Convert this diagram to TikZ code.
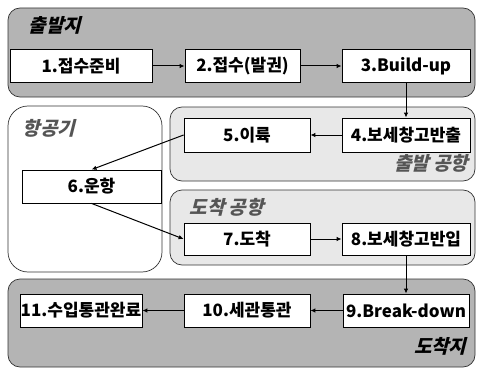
\documentclass[tikz,border=0pt]{standalone}
\usepackage{fontspec}
\setmainfont{Noto Sans CJK KR}
\newfontfamily\slantfont{Noto Sans CJK KR}[FakeSlant=0.25]
\usetikzlibrary{arrows.meta}
\definecolor{sitegray}{HTML}{B4B4B4}
\definecolor{portgray}{HTML}{E8E8E8}
\definecolor{labelgray}{HTML}{555555}
\begin{document}
\begin{tikzpicture}[
x=1pt, y=-1pt,
>={Latex[length=5pt,width=4.5pt]},
area/.style={draw=black!80, line width=.7pt},
stage/.style={draw, fill=white, line width=.8pt, minimum height=33pt, inner sep=0pt,
  font=\fontsize{17}{19}\selectfont\bfseries},
title/.style={font=\slantfont\fontsize{19}{21}\selectfont\bfseries},
flow/.style={->, line width=1pt}]
\useasboundingbox (0,0) rectangle (479,369);

% areas
\draw[area, fill=sitegray, rounded corners=12pt] (8,8) rectangle (475,97);
\draw[area, fill=white, rounded corners=20pt] (8,106) rectangle (162,272);
\draw[area, fill=portgray, rounded corners=12pt] (170,107) rectangle (475,181);
\draw[area, fill=portgray, rounded corners=12pt] (170,190) rectangle (475,265);
\draw[area, fill=sitegray, rounded corners=12pt] (8,279) rectangle (475,367);

\node[title, anchor=west] (origin) at (25,25) {출발지};
\node[title, text=labelgray, anchor=west] (plane) at (19,128) {항공기};
\node[title, text=labelgray, anchor=east] (deport) at (472,163) {출발 공항};
\node[title, text=labelgray, anchor=west] (arrport) at (186,207) {도착 공항};
\node[title, anchor=east] (dest) at (470,346) {도착지};

% stages
\node[stage, minimum width=142pt] (s1) at (81,66) {1.접수준비};
\node[stage, minimum width=115pt] (s2) at (242.5,66) {2.접수(발권)};
\node[stage, minimum width=128pt] (s3) at (406,66) {3.Build-up};
\node[stage, minimum width=128pt, minimum height=34pt] (s4) at (406,135) {4.보세창고반출};
\node[stage, minimum width=126pt, minimum height=34pt] (s5) at (247,135) {5.이륙};
\node[stage, minimum width=139pt] (s6) at (91.5,186.5) {6.운항};
\node[stage, minimum width=126pt, minimum height=32pt] (s7) at (247,239) {7.도착};
\node[stage, minimum width=128pt, minimum height=32pt] (s8) at (406,239) {8.보세창고반입};
\node[stage, minimum width=126pt] (s9) at (406,310.5) {9.Break-down};
\node[stage, minimum width=126pt] (s10) at (247,310.5) {10.세관통관};
\node[stage, minimum width=122pt] (s11) at (81,310.5) {11.수입통관완료};

% flow
\draw[flow] (s1) -- (s2);
\draw[flow] (s2) -- (s3);
\draw[flow] (s3) -- (s4);
\draw[flow] (s4) -- (s5);
\draw[flow] (s5.west) -- (s6.north);
\draw[flow] (s6.south) -- (s7.west);
\draw[flow] (s7) -- (s8);
\draw[flow] (s8) -- (s9);
\draw[flow] (s9) -- (s10);
\draw[flow] (s10) -- (s11);
\end{tikzpicture}
\end{document}
